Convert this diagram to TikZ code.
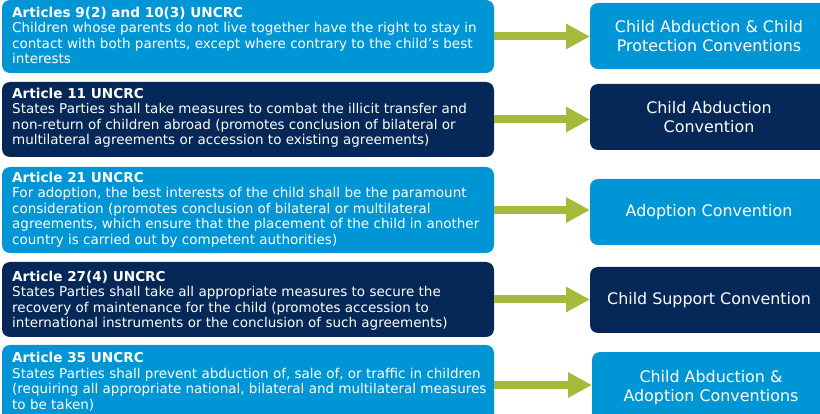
\documentclass[tikz,border=0pt]{standalone}
\usepackage{fontspec}
\setmainfont{DejaVu Sans}
\usetikzlibrary{arrows.meta}
\definecolor{skyblue}{RGB}{0,150,214}
\definecolor{navy}{RGB}{6,40,88}
\definecolor{olive}{RGB}{164,186,58}
\newcommand\arttitle[1]{{\fontsize{13.6}{15.6}\selectfont\bfseries #1}}
\tikzset{
  box/.style={rounded corners=8pt, minimum width=492pt, anchor=north west, inner sep=0pt, outer sep=0pt},
  conv/.style={rounded corners=8pt, minimum width=238pt, minimum height=66pt, anchor=north west, inner sep=0pt, outer sep=0pt,
    text=white, align=center, font=\fontsize{15.9}{19}\selectfont},
  body/.style={anchor=north west, inner sep=0pt, align=left, text=white, font=\fontsize{13.5}{15.6}\selectfont},
  link/.style={draw=olive, line width=8pt, -{Triangle[length=24pt,width=24pt]}},
  light/.style={fill=skyblue},
  dark/.style={fill=navy}
}
\begin{document}
\begin{tikzpicture}[x=1pt,y=-1pt]
\clip (0,0) rectangle (820,414);
\fill[white] (0,0) rectangle (820,414);

% left column: treaty articles
\node[box, light, minimum height=73pt] (L1) at (2,0) {};
\node[box, dark,  minimum height=75pt] (L2) at (2,82) {};
\node[box, light, minimum height=86pt] (L3) at (2,167) {};
\node[box, dark,  minimum height=75pt] (L4) at (2,262) {};
\node[box, light, minimum height=80pt] (L5) at (2,345) {};

\node[body] (T1) at (12,6.5) {\arttitle{Articles 9(2) and 10(3) UNCRC}\\
Children whose parents do not live together have the right to stay in\\
contact with both parents, except where contrary to the child’s best\\
interests};
\node[body] (T2) at (12,87.5) {\arttitle{Article 11 UNCRC}\\
States Parties shall take measures to combat the illicit transfer and\\
non-return of children abroad (promotes conclusion of bilateral or\\
multilateral agreements or accession to existing agreements)};
\node[body] (T3) at (12,171.5) {\arttitle{Article 21 UNCRC}\\
For adoption, the best interests of the child shall be the paramount\\
consideration (promotes conclusion of bilateral or multilateral\\
agreements, which ensure that the placement of the child in another\\
country is carried out by competent authorities)};
\node[body] (T4) at (12,270.5) {\arttitle{Article 27(4) UNCRC}\\
States Parties shall take all appropriate measures to secure the\\
recovery of maintenance for the child (promotes accession to\\
international instruments or the conclusion of such agreements)};
\node[body] (T5) at (12,352) {\arttitle{Article 35 UNCRC}\\
States Parties shall prevent abduction of, sale of, or traffic in children\\
(requiring all appropriate national, bilateral and multilateral measures\\
to be taken)};

% right column: conventions
\node[conv, light] (R1) at (590,3) {Child Abduction \& Child\\Protection Conventions};
\node[conv, dark]  (R2) at (590,84) {Child Abduction\\Convention};
\node[conv, light] (R3) at (590,179) {Adoption Convention};
\node[conv, dark]  (R4) at (590,267) {Child Support Convention};
\node[conv, light, minimum height=72pt] (R5) at (592,352) {Child Abduction \&\\Adoption Conventions};

% arrows from each article to its convention
\foreach \i in {1,...,5} {
  \draw[link] (L\i.east) -- (L\i.east -| R\i.west);
}
\end{tikzpicture}
\end{document}
